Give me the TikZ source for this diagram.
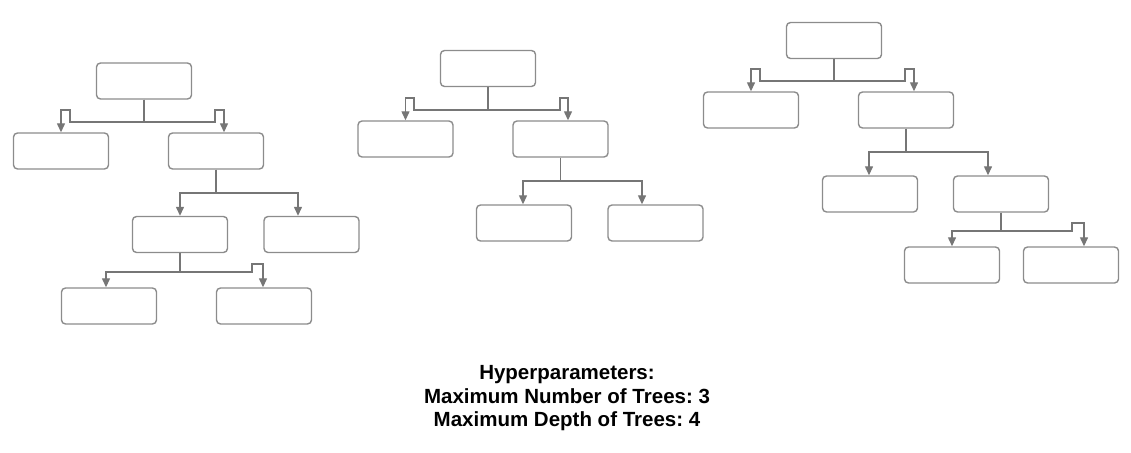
\documentclass[tikz,border=0pt]{standalone}
\usepackage{fontspec}
\setmainfont{Liberation Sans}
\usetikzlibrary{arrows.meta}
\definecolor{boxgray}{RGB}{140,140,140}
\definecolor{linegray}{RGB}{118,118,118}
\tikzset{
  tbox/.style={draw=boxgray, line width=1.4pt, rounded corners=4pt, fill=white,
    minimum width=95pt, minimum height=36pt, inner sep=0pt},
  conn/.style={draw=linegray, line width=1.3pt,
    -{Triangle[length=9pt,width=8pt]}, color=linegray},
  hptext/.style={align=center, font=\frenchspacing\fontsize{20.5}{23.5}\selectfont\bfseries, inner sep=0pt}
}
\begin{document}
\begin{tikzpicture}[x=1pt,y=-1pt]
\useasboundingbox (0,0) rectangle (1131,452);
% ---------- Tree 1 ----------
\node[tbox] (r1) at (144,81) {};
\node[tbox] (a1) at (61,151) {};
\node[tbox] (b1) at (216,151) {};
\node[tbox] (c1) at (180,234.5) {};
\node[tbox] (d1) at (311.5,234.5) {};
\node[tbox] (e1) at (109,306) {};
\node[tbox] (f1) at (264,306) {};
\draw[conn] (r1.south) |- (70,122) -- (70,110) -| (a1.north);
\draw[conn] (r1.south) |- (215,122) -- (215,110) -| ([xshift=8pt]b1.north);
\draw[conn] (b1.south) |- (180,193) -- (c1.north);
\draw[conn] (b1.south) |- (298,193) -- ([xshift=-13.5pt]d1.north);
\draw[conn] (c1.south) |- (106,272) -- ([xshift=-3pt]e1.north);
\draw[conn] (c1.south) |- (252,272) -- (252,264) -| ([xshift=-1pt]f1.north);
% ---------- Tree 2 ----------
\node[tbox] (r2) at (488,68.5) {};
\node[tbox] (a2) at (405.5,139) {};
\node[tbox] (b2) at (560.5,139) {};
\node[tbox] (c2) at (524,223) {};
\node[tbox] (d2) at (655.5,223) {};
\draw[conn] (r2.south) |- (414,110) -- (414,98) -| (a2.north);
\draw[conn] (r2.south) |- (560,110) -- (560,98) -| ([xshift=7.5pt]b2.north);
\draw[conn] (b2.south) |- (523,181) -- ([xshift=-1pt]c2.north);
\draw[conn] (b2.south) |- (642,181) -- ([xshift=-13.5pt]d2.north);
% ---------- Tree 3 ----------
\node[tbox] (r3) at (834,40.5) {};
\node[tbox] (a3) at (751,110) {};
\node[tbox] (b3) at (906,110) {};
\node[tbox] (c3) at (870,194) {};
\node[tbox] (d3) at (1001,194) {};
\node[tbox] (e3) at (952,265) {};
\node[tbox] (f3) at (1071,265) {};
\draw[conn] (r3.south) |- (760,81) -- (760,69) -| (a3.north);
\draw[conn] (r3.south) |- (905,81) -- (905,69) -| ([xshift=8pt]b3.north);
\draw[conn] (b3.south) |- (869,152) -- ([xshift=-1pt]c3.north);
\draw[conn] (b3.south) |- (988,152) -- ([xshift=-13pt]d3.north);
\draw[conn] (d3.south) |- (952,231) -- (e3.north);
\draw[conn] (d3.south) |- (1072,231) -- (1072,223) -| ([xshift=13pt]f3.north);
% ---------- Text ----------
\node[hptext] (hp) at (567,398.5) {Hyperparameters:\\Maximum Number of Trees: 3\\Maximum Depth of Trees: 4};
\end{tikzpicture}
\end{document}
